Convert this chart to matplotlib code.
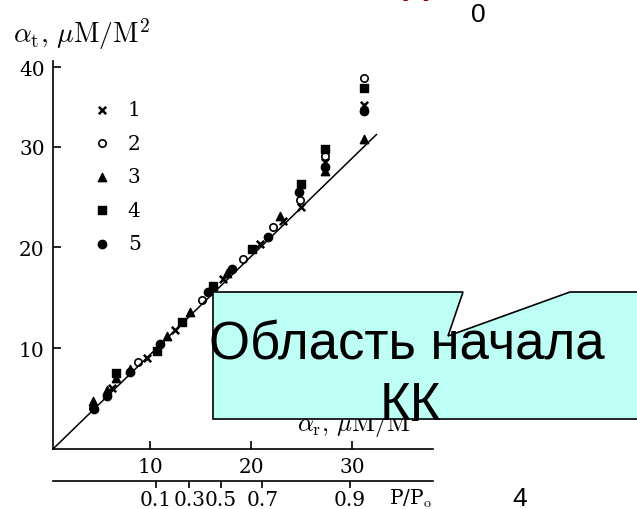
import matplotlib
matplotlib.use("Agg")
import matplotlib.pyplot as plt
from matplotlib.patches import Polygon

# данные по сериям
x1 = [6.2, 9.7, 12.5, 17.2, 20.9, 23.2, 24.9, 27.3, 31.2]
y1 = [6.1, 9.0, 11.8, 16.9, 20.3, 22.6, 24.0, 28.5, 34.1]
x2 = [4.4, 8.8, 15.1, 19.2, 22.2, 24.8, 27.3, 31.2]
y2 = [4.1, 8.6, 14.8, 18.9, 22.0, 24.7, 29.1, 36.8]
x3 = [4.4, 5.7, 6.6, 8.0, 11.7, 14.0, 17.6, 22.9, 27.3, 31.2]
y3 = [4.8, 5.9, 7.0, 7.9, 11.2, 13.6, 17.5, 23.1, 27.6, 30.8]
x4 = [6.6, 10.7, 13.2, 16.2, 20.1, 24.9, 27.3, 31.2]
y4 = [7.5, 9.7, 12.6, 16.2, 19.8, 26.3, 29.8, 35.8]
x5 = [4.5, 5.7, 8.0, 11.0, 15.7, 18.1, 21.7, 24.7, 27.3, 31.2]
y5 = [4.0, 5.3, 7.6, 10.4, 15.6, 17.9, 21.0, 25.5, 28.0, 33.5]

line_x = [0.4, 32.4]
line_y = [0.0, 31.2]

y_ticks = [10, 20, 30, 37.9]
y_labels = ["10", "20", "30", "40"]
x_ticks = [10, 20, 30]
p_ticks = [10.6, 13.9, 17.0, 21.1, 29.8]
p_labels = ["0.1", "0.3", "0.5", "0.7", "0.9"]

plt.rcParams["mathtext.fontset"] = "cm"
plt.rcParams["font.family"] = ["DejaVu Serif"]

W, H = 637, 510
fig = plt.figure(figsize=(W / 100, H / 100), dpi=100)
ax = fig.add_axes([53 / W, 1 - 450 / H, 380 / W, 388 / H])

ax.plot(line_x, line_y, color="black", lw=1.1)
ms = 28
ax.scatter(x1, y1, marker="x", s=ms, color="black", linewidths=1.8, label="1")
ax.scatter(x2, y2, marker="o", s=ms, facecolors="white", edgecolors="black", linewidths=1.2, label="2")
ax.scatter(x3, y3, marker="^", s=ms + 8, color="black", label="3")
ax.scatter(x4, y4, marker="s", s=ms, color="black", label="4")
ax.scatter(x5, y5, marker="o", s=ms + 8, color="black", label="5")

ax.set_xlim(0.4, 38.0)
ax.set_ylim(0, 38.5)
ax.spines["top"].set_visible(False)
ax.spines["right"].set_visible(False)
ax.spines["left"].set_linewidth(1.2)
ax.spines["bottom"].set_linewidth(1.2)
ax.set_xticks(x_ticks)
ax.set_yticks(y_ticks, labels=y_labels)
ax.tick_params(direction="in", length=6, width=1.2, labelsize=14.5, pad=6)

ax.legend(loc="upper left", bbox_to_anchor=(0.075, 0.925), frameon=False, fontsize=14.5,
          handlelength=1.0, handletextpad=0.8, labelspacing=0.72, borderpad=0)

ax.text(0.075, 1.05, r"$\alpha_{\rm t},\, \mu{\rm M/M}^2$", transform=ax.transAxes,
        ha="center", va="baseline", fontsize=20)
ax.text(0.805, 0.046, r"$\alpha_{\rm r},\, \mu{\rm M/M}^2$", transform=ax.transAxes,
        ha="center", va="baseline", fontsize=18)

# вторая шкала P/Po
sec = ax.secondary_xaxis(-0.083)
sec.set_xticks(p_ticks, labels=p_labels)
sec.spines["bottom"].set_linewidth(1.2)
sec.tick_params(direction="out", length=5, width=1.2, labelsize=14.5, pad=1)
ax.text(0.94, -0.14, r"P/P$_{\rm o}$", transform=ax.transAxes, ha="center",
        va="baseline", fontsize=14.5)

# выноска
pts = [(213, 293), (463, 293), (448, 337), (570, 293), (645, 293), (645, 420), (213, 420)]
poly = Polygon([(px / W, 1 - py / H) for px, py in pts], closed=True, transform=fig.transFigure,
               facecolor="#BDFEF5", edgecolor="black", lw=1.2, zorder=5)
fig.add_artist(poly)
fig.text(407 / W, 1 - 360 / H, "Область начала", ha="center", va="baseline",
         fontsize=38, family="Liberation Sans", zorder=6)
fig.text(410 / W, 1 - 420 / H, "КК", ha="center", va="baseline",
         fontsize=38, family="Liberation Sans", zorder=6)

fig.text(478 / W, 1 - 22 / H, "0", ha="center", va="baseline", fontsize=19, family="Liberation Sans")
fig.text(520 / W, 1 - 506 / H, "4", ha="center", va="baseline", fontsize=19, family="Liberation Sans")
fig.text(416 / W, 1 - 1 / H, "Д", ha="center", va="bottom", fontsize=26, color="#990000",
         family="Liberation Sans", weight="bold")

fig.savefig("out.png", dpi=100)
